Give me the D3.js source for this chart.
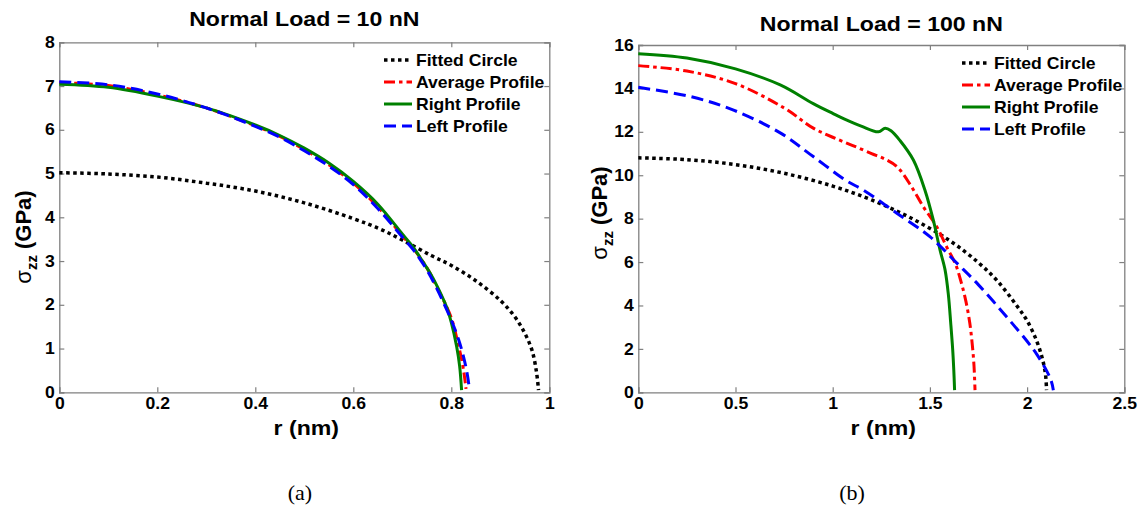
<!DOCTYPE html>
<html>
<head>
<meta charset="utf-8">
<script src="https://cdn.jsdelivr.net/npm/d3@7"></script>
<style>
  html, body { margin: 0; padding: 0; background: #fff; }
  svg { display: block; }
  text { font-family: Arial, "Liberation Sans", sans-serif; }
</style>
</head>
<body>
<svg id="chart" width="1147" height="515"></svg>
<script>
// ---- Panel (a): normal load 10 nN, stress sigma_zz (GPa) vs radius r (nm) ----
const fit10 = [[0,5.02],[0.1,4.99],[0.2,4.92],[0.3,4.78],[0.4,4.6],[0.5,4.33],[0.6,3.97],[0.655,3.73],[0.7,3.48],
  [0.76,3.12],[0.8,2.9],[0.85,2.55],[0.9,2.1],[0.93,1.72],[0.95,1.35],[0.965,0.95],[0.974,0.45],[0.978,0.05]];
const avg10 = [[0,7.08],[0.1,7.01],[0.2,6.8],[0.3,6.5],[0.4,6.09],[0.45,5.85],[0.5,5.55],[0.55,5.2],[0.6,4.78],
  [0.65,4.24],[0.7,3.58],[0.723,3.28],[0.75,2.85],[0.77,2.42],[0.8,1.7],[0.813,1.15],[0.822,0.7],[0.827,0.35],[0.83,0.08]];
const right10 = [[0,7.04],[0.1,6.97],[0.2,6.77],[0.3,6.5],[0.4,6.11],[0.45,5.87],[0.5,5.58],[0.55,5.24],[0.6,4.82],
  [0.65,4.3],[0.7,3.62],[0.72,3.35],[0.74,3.02],[0.757,2.72],[0.77,2.45],[0.79,1.96],[0.8,1.6],[0.811,1.04],
  [0.817,0.6],[0.821,0.05]];
const left10 = [[0,7.1],[0.1,7.03],[0.2,6.82],[0.3,6.5],[0.4,6.08],[0.45,5.83],[0.5,5.52],[0.55,5.17],[0.6,4.75],
  [0.65,4.2],[0.7,3.55],[0.723,3.25],[0.75,2.8],[0.77,2.38],[0.8,1.65],[0.815,1.2],[0.825,0.81],[0.832,0.45],[0.837,0.08]];

// ---- Panel (b): normal load 100 nN ----
const fit100 = [[0,10.8],[0.25,10.72],[0.5,10.49],[0.75,10.09],[1.0,9.5],[1.2,8.86],[1.4,8.04],[1.6,7.0],
  [1.75,5.97],[1.85,5.1],[1.95,3.95],[2.0,3.3],[2.05,2.35],[2.08,1.5],[2.095,0.8],[2.1,0.1]];
const avg100 = [[0,15.05],[0.25,14.8],[0.5,14.22],[0.75,13.1],[0.9,12.17],[1.0,11.75],[1.1,11.38],[1.2,11.0],
  [1.27,10.74],[1.33,10.4],[1.4,9.55],[1.466,8.55],[1.535,7.63],[1.586,6.7],[1.63,5.94],[1.66,5.1],[1.685,4.2],
  [1.705,3.2],[1.718,2.2],[1.727,1.2],[1.732,0.1]];
const right100 = [[0,15.6],[0.25,15.4],[0.5,14.9],[0.73,14.16],[0.9,13.3],[1.0,12.85],[1.07,12.55],[1.15,12.25],
  [1.235,12.0],[1.27,12.17],[1.3,12.05],[1.346,11.6],[1.415,10.7],[1.475,9.3],[1.517,7.95],[1.552,6.56],
  [1.578,5.64],[1.595,4.5],[1.607,3.2],[1.617,2.0],[1.623,1.0],[1.627,0.1]];
const left100 = [[0,14.05],[0.27,13.62],[0.49,13.0],[0.73,11.95],[0.9,10.86],[1.07,9.75],[1.157,9.32],[1.33,8.25],
  [1.5,7.17],[1.64,5.94],[1.75,4.95],[1.9,3.42],[2.0,2.35],[2.05,1.75],[2.1,1.0],[2.125,0.5],[2.135,0.1]];

const xTicks10 = [0, 0.2, 0.4, 0.6, 0.8, 1];
const yTicks10 = [0, 1, 2, 3, 4, 5, 6, 7, 8];
const xTicks100 = [0, 0.5, 1, 1.5, 2, 2.5];
const yTicks100 = [0, 2, 4, 6, 8, 10, 12, 14, 16];

const legendNames = ["Fitted Circle", "Average Profile", "Right Profile", "Left Profile"];

// line appearance for each series, in legend order
const styles = [
  { color: "#000000", dash: "3.5,3.5", width: 3.5 },
  { color: "#ff0000", dash: "11,4,3.5,4", width: 3 },
  { color: "#008000", dash: null, width: 3 },
  { color: "#0000ff", dash: "12,6", width: 3 }
];

// the lettering is set slightly wide
const WIDE = 1.1;

const svg = d3.select("#chart");
const axisGray = "#808080";

// text placed at (x, y) and widened horizontally around that anchor
function wideText(parent, x, y, size, anchor, str) {
  return parent.append("g").attr("transform", `translate(${x},${y}) scale(${WIDE},1)`)
    .append("text")
    .attr("text-anchor", anchor)
    .attr("font-size", size).attr("font-weight", "bold").attr("fill", "#000")
    .text(str);
}

function drawPanel(cfg) {
  const x = d3.scaleLinear().domain(cfg.xDomain).range([cfg.left, cfg.right]);
  const y = d3.scaleLinear().domain(cfg.yDomain).range([cfg.bottom, cfg.top]);
  const g = svg.append("g");
  const fmt = d => String(d);

  // bottom axis with labels, inward ticks
  const bx = g.append("g").attr("transform", `translate(0,${cfg.bottom})`)
    .call(d3.axisBottom(x).tickValues(cfg.xTicks).tickFormat(fmt).tickSize(-5).tickPadding(5));
  // top mirror
  const tx = g.append("g").attr("transform", `translate(0,${cfg.top})`)
    .call(d3.axisTop(x).tickValues(cfg.xTicks).tickFormat("").tickSize(-5));
  // left axis
  const ly = g.append("g").attr("transform", `translate(${cfg.left},0)`)
    .call(d3.axisLeft(y).tickValues(cfg.yTicks).tickFormat(fmt).tickSize(-5).tickPadding(4));
  // right mirror
  const ry = g.append("g").attr("transform", `translate(${cfg.right},0)`)
    .call(d3.axisRight(y).tickValues(cfg.yTicks).tickFormat("").tickSize(-5));

  [bx, tx, ly, ry].forEach(a => {
    a.select(".domain").attr("stroke", axisGray).attr("stroke-width", 1.3);
    a.selectAll(".tick line").attr("stroke", axisGray).attr("stroke-width", 1.2);
  });
  bx.selectAll(".tick text").attr("font-size", 16).attr("font-weight", "bold").attr("fill", "#000")
    .attr("dy", "0.72em").attr("transform", `scale(${WIDE},1)`);
  ly.selectAll(".tick text").attr("font-size", 16).attr("font-weight", "bold").attr("fill", "#000")
    .attr("transform", `scale(${WIDE},1)`);

  // data curves
  const line = d3.line().x(d => x(d[0])).y(d => y(d[1])).curve(d3.curveCatmullRom.alpha(0.5));
  cfg.series.forEach((s, i) => {
    const st = styles[i];
    g.append("path").datum(s)
      .attr("d", line)
      .attr("fill", "none")
      .attr("stroke", st.color)
      .attr("stroke-width", st.width)
      .attr("stroke-dasharray", st.dash)
      .attr("stroke-linejoin", "round");
  });

  // legend
  legendNames.forEach((name, i) => {
    const st = styles[i];
    const yy = cfg.legendY + i * 22;
    g.append("line")
      .attr("x1", cfg.legendX).attr("x2", cfg.legendX + 28)
      .attr("y1", yy).attr("y2", yy)
      .attr("stroke", st.color).attr("stroke-width", st.width)
      .attr("stroke-dasharray", st.dash);
    wideText(g, cfg.legendX + 32, yy, 16, "start", name).attr("dy", "0.36em");
  });

  // title
  wideText(g, (cfg.left + cfg.right) / 2, cfg.titleY, 21, "middle", cfg.title);

  // x label
  wideText(g, (cfg.left + cfg.right) / 2 + 2, 435, 21, "middle", "r (nm)");

  // y label: sigma_zz (GPa)
  const yl = g.append("text")
    .attr("transform", `translate(${cfg.yLabelX},${cfg.yLabelY}) rotate(-90)`)
    .attr("text-anchor", "middle").attr("font-size", 22).attr("font-weight", "bold");
  yl.append("tspan").attr("font-weight", "normal").text("σ");
  yl.append("tspan").attr("font-size", 15).attr("dy", 6).text("zz");
  yl.append("tspan").attr("dy", -6).text(" (GPa)");

  // panel caption
  svg.append("text")
    .attr("x", cfg.captionX).attr("y", 500)
    .attr("text-anchor", "middle")
    .style("font-family", "'Liberation Serif', 'Times New Roman', serif")
    .attr("font-size", 22)
    .text(cfg.caption);
}

drawPanel({
  left: 59.3, right: 549.3, top: 42.3, bottom: 392.3,
  xDomain: [0, 1], yDomain: [0, 8], xTicks: xTicks10, yTicks: yTicks10,
  series: [fit10, avg10, right10, left10],
  legendX: 384, legendY: 60,
  title: "Normal Load = 10 nN", titleY: 26,
  yLabelX: 31, yLabelY: 237, caption: "(a)", captionX: 300
});

drawPanel({
  left: 638.3, right: 1124.3, top: 45, bottom: 392.3,
  xDomain: [0, 2.5], yDomain: [0, 16], xTicks: xTicks100, yTicks: yTicks100,
  series: [fit100, avg100, right100, left100],
  legendX: 962, legendY: 63,
  title: "Normal Load = 100 nN", titleY: 30.5,
  yLabelX: 607, yLabelY: 213, caption: "(b)", captionX: 852
});
</script>
</body>
</html>
